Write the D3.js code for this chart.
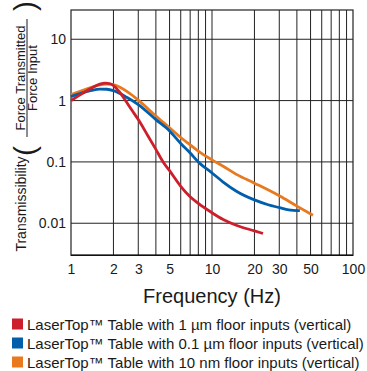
<!DOCTYPE html>
<html><head><meta charset="utf-8">
<script src="https://cdn.jsdelivr.net/npm/d3@7"></script>
<style>body{margin:0;background:#fff}svg{display:block}text{font-family:"Liberation Sans",Arial,sans-serif;fill:#1a1a1a}</style>
</head><body><svg id="c" width="367" height="371"></svg>
<script>
const xTicks = [1, 2, 3, 5, 10, 20, 30, 50, 100];
const xGrid = [2,3,4,5,6,7,8,9,10,20,30,40,50,60,70,80,90];
const yTicks = [10, 1, 0.1, 0.01];
const yTickLabels = ["10", "1", "0.1", "0.01"];

const redF  = [1, 1.2, 1.4, 1.6, 1.75, 1.9, 2, 2.2, 2.4, 2.7, 3, 3.5, 4, 4.5, 5, 6, 7, 8, 10, 12, 15, 20, 23];
const redV  = [1.0, 1.3, 1.6, 1.85, 1.93, 1.88, 1.76, 1.4, 1.05, 0.7, 0.49, 0.27, 0.16, 0.1, 0.072, 0.04, 0.027, 0.021, 0.0148, 0.0115, 0.0092, 0.0075, 0.0068];
const blueF = [1, 1.2, 1.4, 1.6, 1.8, 2, 2.5, 3, 4, 5, 6, 7, 8, 10, 12, 15, 20, 25, 30, 35, 42];
const blueV = [1.16, 1.34, 1.47, 1.54, 1.53, 1.45, 1.12, 0.86, 0.49, 0.32, 0.2, 0.14, 0.1, 0.066, 0.047, 0.033, 0.024, 0.02, 0.018, 0.0165, 0.016];
const orgF  = [1, 1.2, 1.4, 1.6, 1.8, 2, 2.5, 3, 4, 5, 6, 7, 8, 10, 12, 15, 20, 30, 40, 52];
const orgV  = [1.25, 1.45, 1.65, 1.8, 1.86, 1.82, 1.4, 1.02, 0.56, 0.36, 0.25, 0.19, 0.15, 0.108, 0.085, 0.062, 0.045, 0.028, 0.019, 0.0135];

const seriesNames = ["LaserTop\u2122 Table with 1 \u00b5m floor inputs (vertical)",
                     "LaserTop\u2122 Table with 0.1 \u00b5m floor inputs (vertical)",
                     "LaserTop\u2122 Table with 10 nm floor inputs (vertical)"];
const colors = ["#cc1f2b", "#005eab", "#e8791f"];

const svg = d3.select("#c");
const L = 71, R = 353, T = 10, B = 255.3;
const x = d3.scaleLog().domain([1, 100]).range([L, R]);
const y = d3.scaleLog().domain([0.003, 30]).range([B, T]);
const FF = '"Liberation Sans",Arial,sans-serif';

const g = svg.append("g");
g.selectAll(".vx").data(xGrid).join("line")
  .attr("x1", d => x(d)).attr("x2", d => x(d)).attr("y1", T).attr("y2", B)
  .attr("stroke", "#222").attr("stroke-width", 1);
g.selectAll(".hy").data(yTicks).join("line")
  .attr("x1", L).attr("x2", R).attr("y1", d => y(d)).attr("y2", d => y(d))
  .attr("stroke", "#222").attr("stroke-width", 1);
g.append("rect").attr("x", L).attr("y", T).attr("width", R - L).attr("height", B - T)
  .attr("fill", "none").attr("stroke", "#222").attr("stroke-width", 1.2);
g.append("line").attr("x1", L).attr("x2", R).attr("y1", B).attr("y2", B).attr("stroke", "#111").attr("stroke-width", 1.6);

const xAxis = d3.axisBottom(x).tickValues(xTicks).tickFormat(d3.format("d")).tickSize(0).tickPadding(9);
const xa = svg.append("g").attr("transform", `translate(0,${B})`).call(xAxis);
xa.select(".domain").remove();
xa.selectAll("text").style("font-size", "14px").attr("fill", "#1a1a1a").style("font-family", FF);

const yAxis = d3.axisLeft(y).tickValues(yTicks).tickFormat((d, i) => yTickLabels[i]).tickSize(0).tickPadding(5);
const ya = svg.append("g").attr("transform", `translate(${L},0)`).call(yAxis);
ya.select(".domain").remove();
ya.selectAll("text").style("font-size", "14px").attr("fill", "#1a1a1a").style("font-family", FF);

svg.append("text").attr("x", 212).attr("y", 303).attr("text-anchor", "middle")
  .style("font-size", "20px").text("Frequency (Hz)");

const yl = svg.append("g");
yl.append("text").attr("transform", "translate(26,204) rotate(-90)").attr("text-anchor", "middle")
  .style("font-size", "14px").text("Transmissibility");
yl.append("text").attr("transform", "translate(25,78) rotate(-90)").attr("text-anchor", "middle")
  .style("font-size", "13px").text("Force Transmitted");
yl.append("text").attr("transform", "translate(37,78) rotate(-90)").attr("text-anchor", "middle")
  .style("font-size", "13px").text("Force Input");
yl.append("line").attr("x1", 27).attr("x2", 27).attr("y1", 19).attr("y2", 137).attr("stroke", "#1a1a1a").attr("stroke-width", 1);
yl.append("text").attr("text-anchor", "middle")
  .style("font-size", "30px").attr("transform", "translate(35,151) rotate(-90)").text("(");
yl.append("text").attr("text-anchor", "middle")
  .style("font-size", "30px").attr("transform", "translate(35,6) rotate(-90)").text(")");

const line = d3.line().x(d => x(d[0])).y(d => y(d[1])).curve(d3.curveMonotoneX);
const data = [d3.zip(redF, redV), d3.zip(blueF, blueV), d3.zip(orgF, orgV)];
[2, 1, 0].forEach(i => {
  svg.append("path").datum(data[i]).attr("d", line).attr("fill", "none")
    .attr("stroke", colors[i]).attr("stroke-width", 2.8);
});

const lg = svg.append("g");
seriesNames.forEach((n, i) => {
  const cy = 324 + i * 19;
  lg.append("rect").attr("x", 12).attr("y", cy - 5.5).attr("width", 11).attr("height", 11).attr("fill", colors[i]);
  lg.append("text").attr("x", 27).attr("y", cy + 5.5).style("font-size", "15px").text(n);
});
</script></body></html>
